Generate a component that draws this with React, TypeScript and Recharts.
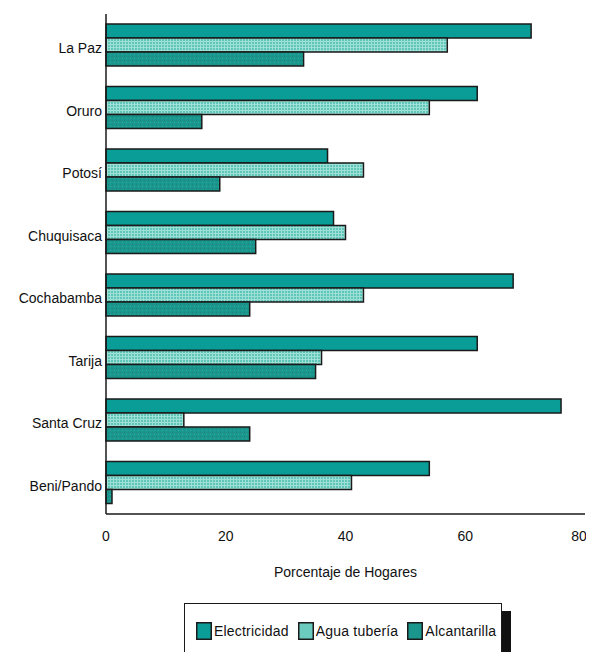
import React from 'react';
import { BarChart, Bar, XAxis, YAxis, Legend } from 'recharts';

const categories = ['La Paz', 'Oruro', 'Potosí', 'Chuquisaca', 'Cochabamba', 'Tarija', 'Santa Cruz', 'Beni/Pando'];
const electricidad = [71, 62, 37, 38, 68, 62, 76, 54];
const aguaTuberia = [57, 54, 43, 40, 43, 36, 13, 41];
const alcantarilla = [33, 16, 19, 25, 24, 35, 24, 1];
const xTicks = [0, 20, 40, 60, 80];
const seriesNames = ['Electricidad', 'Agua tubería', 'Alcantarilla'];

const data = categories.map((name, i) => ({
  name,
  elec: electricidad[i],
  agua: aguaTuberia[i],
  alc: alcantarilla[i],
}));

const FONT = '"Liberation Sans", Arial, Helvetica, sans-serif';
const fills = ['#0a9c96', 'url(#aguaPat)', 'url(#alcPat)'];
const legendColors = ['#0a9c96', '#6ccbbf', '#1a968c'];

const XTick = (props: any) => {
  const { x, y, payload } = props;
  const last = payload.value === xTicks[xTicks.length - 1];
  return (
    <text
      x={x + (last ? -6 : 0)}
      y={y}
      dy="0.71em"
      textAnchor="middle"
      fontSize={14}
      fill="#111"
      fontFamily={FONT}
    >
      {payload.value}
    </text>
  );
};

const CustomLegend = () => (
  <div
    style={{
      width: 318,
      height: 56,
      boxSizing: 'border-box',
      border: '1.5px solid #1a1a1a',
      background: '#fff',
      boxShadow: '9px 8px 0 #111',
      display: 'flex',
      alignItems: 'center',
      paddingLeft: 11,
      fontFamily: FONT,
      fontSize: 14,
      color: '#111',
    }}
  >
    {seriesNames.map((n, i) => (
      <div key={n} style={{ display: 'flex', alignItems: 'center', marginRight: i === 2 ? 0 : 9 }}>
        <svg width={16} height={18} style={{ display: 'block', marginRight: 2 }}>
          <rect x={0.75} y={0.75} width={14.5} height={16.5} fill={legendColors[i]} stroke="#1a1a1a" strokeWidth={1.5} />
        </svg>
        <span style={{ letterSpacing: 0.2 }}>{n}</span>
      </div>
    ))}
  </div>
);

export default function App() {
  return (
    <div style={{ width: 586, height: 644, position: 'relative', overflow: 'visible' }}>
      <BarChart
        width={586}
        height={652}
        data={data}
        layout="vertical"
        margin={{ top: 6, right: 9, left: 0, bottom: 1 }}
        barGap={0}
        barSize={14}
      >
        <defs>
          <pattern id="aguaPat" width={3} height={3} patternUnits="userSpaceOnUse">
            <rect width={3} height={3} fill="#5fc7ba" />
            <rect width={1} height={3} fill="#9fe0d6" />
            <rect width={3} height={1} fill="#9fe0d6" />
          </pattern>
          <pattern id="alcPat" width={4} height={4} patternUnits="userSpaceOnUse">
            <rect width={4} height={4} fill="#17978d" />
            <rect x={0} y={0} width={1} height={1} fill="#2e7f78" />
            <rect x={2} y={2} width={1} height={1} fill="#3fa79e" />
          </pattern>
        </defs>
        <XAxis
          type="number"
          domain={[0, 80]}
          ticks={xTicks}
          interval={0}
          tickLine={false}
          tickSize={0}
          tickMargin={17}
          height={89}
          axisLine={{ stroke: '#1a1a1a', strokeWidth: 1.5 }}
          tick={<XTick />}
          label={{
            value: 'Porcentaje de Hogares',
            position: 'insideBottom',
            offset: 26,
            style: { fontSize: 14, fill: '#111', fontFamily: FONT },
          }}
        />
        <XAxis
          xAxisId="top"
          orientation="top"
          type="number"
          domain={[0, 80]}
          tick={false}
          tickLine={false}
          height={0}
          axisLine={{ stroke: '#1a1a1a', strokeWidth: 2 }}
        />
        <YAxis
          type="category"
          dataKey="name"
          width={98}
          tickLine={false}
          tickSize={0}
          tickMargin={4}
          axisLine={{ stroke: '#1a1a1a', strokeWidth: 1.5 }}
          tick={{ fontSize: 14, fill: '#111', fontFamily: FONT, dy: 3 }}
        />
        <YAxis
          yAxisId="right"
          orientation="right"
          type="category"
          dataKey="name"
          width={0}
          tick={false}
          tickLine={false}
          axisLine={{ stroke: '#1a1a1a', strokeWidth: 1.2 }}
        />
        <Legend
          verticalAlign="bottom"
          content={() => <CustomLegend />}
          wrapperStyle={{ left: 176, width: 330, bottom: 1 }}
        />
        <Bar dataKey="elec" name={seriesNames[0]} fill={fills[0]} stroke="#1a1a1a" strokeWidth={1.5} isAnimationActive={false} />
        <Bar dataKey="agua" name={seriesNames[1]} fill={fills[1]} stroke="#1a1a1a" strokeWidth={1.5} isAnimationActive={false} />
        <Bar dataKey="alc" name={seriesNames[2]} fill={fills[2]} stroke="#1a1a1a" strokeWidth={1.5} isAnimationActive={false} />
      </BarChart>
    </div>
  );
}
